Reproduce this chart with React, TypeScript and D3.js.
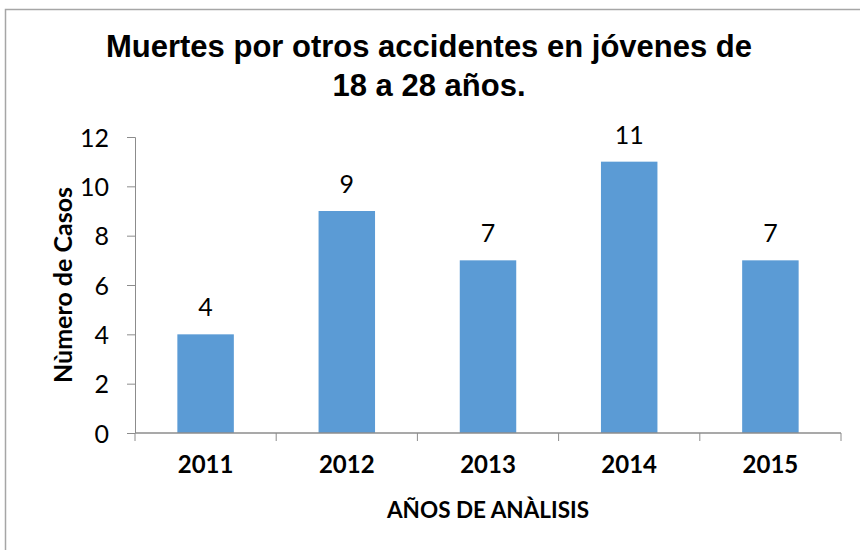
import * as d3 from "d3";
import { useEffect, useRef } from "react";

// datos del gráfico
const years = ["2011", "2012", "2013", "2014", "2015"];
const casos = [4, 9, 7, 11, 7];
const yTicks = [0, 2, 4, 6, 8, 10, 12];

const titleLines = ["Muertes por otros accidentes en jóvenes de", "18 a 28 años."];
const xTitle = "AÑOS DE ANÀLISIS";
const yTitle = "Nùmero de Casos";

const App = () => {
    const ref = useRef<SVGSVGElement>(null);

    const width = 860;
    const height = 550;
    const margin = { top: 137, bottom: 117, left: 135, right: 19 };
    const boundsWidth = width - margin.left - margin.right;
    const boundsHeight = height - margin.top - margin.bottom;

    useEffect(() => {
        const svg = d3.select(ref.current);
        svg.selectAll("*").remove();

        const font = "Lato, 'DejaVu Sans', sans-serif";
        const axisColor = "#8c8c8c";

        // marco exterior
        svg.append("rect")
            .attr("x", 5.5)
            .attr("y", 9.5)
            .attr("width", 900)
            .attr("height", 600)
            .attr("fill", "white")
            .attr("stroke", "#a6a6a6")
            .attr("stroke-width", 1.5);

        // título
        svg.append("text")
            .attr("x", width / 2)
            .attr("y", 57)
            .attr("text-anchor", "middle")
            .style("font-family", "'Liberation Sans', Arial, sans-serif")
            .style("font-weight", "bold")
            .style("font-size", "31px")
            .selectAll("tspan")
            .data(titleLines)
            .enter()
            .append("tspan")
            .attr("x", 429)
            .attr("dy", (d, i) => (i === 0 ? 0 : 39))
            .text(d => d);

        const scaleX = d3
            .scaleBand()
            .domain(years)
            .range([0, boundsWidth])
            .paddingInner(0.6)
            .paddingOuter(0.3);

        const scaleY = d3.scaleLinear().domain([0, 12]).range([boundsHeight, 0]);

        const g = svg
            .append("g")
            .attr("transform", `translate(${margin.left},${margin.top})`);

        // barras
        g.selectAll(".bar")
            .data(casos)
            .enter()
            .append("rect")
            .attr("class", "bar")
            .attr("x", (d, i) => scaleX(years[i])!)
            .attr("y", d => scaleY(d))
            .attr("width", scaleX.bandwidth())
            .attr("height", d => boundsHeight - scaleY(d))
            .style("fill", "#5b9bd5");

        // etiquetas de valores
        g.selectAll(".val")
            .data(casos)
            .enter()
            .append("text")
            .attr("class", "val")
            .attr("x", (d, i) => scaleX(years[i])! + scaleX.bandwidth() / 2)
            .attr("y", d => scaleY(d) - 18)
            .attr("text-anchor", "middle")
            .style("font-family", font)
            .style("font-size", "25px")
            .style("fill", "#000")
            .text(d => d);

        // eje Y
        const yAxis = d3.axisLeft(scaleY).tickValues(yTicks).tickSize(8).tickPadding(18);
        const gy = g.append("g").call(yAxis);
        gy.selectAll("path, line").attr("stroke", axisColor);
        gy.select(".domain").attr("d", `M-8,0.5H0.5V${boundsHeight}`);
        gy.selectAll("text")
            .attr("dy", "0.36em")
            .style("font-family", font)
            .style("font-size", "25px")
            .style("fill", "#000");

        // eje X: marcas en los bordes de cada categoría
        const step = scaleX.step();
        const gx = g.append("g").attr("transform", `translate(0,${boundsHeight})`);
        gx.append("line")
            .attr("x1", 0)
            .attr("x2", boundsWidth)
            .attr("stroke", axisColor)
            .attr("stroke-width", 1.5);
        gx.selectAll(".tk")
            .data(d3.range(years.length + 1))
            .enter()
            .append("line")
            .attr("x1", d => d * step)
            .attr("x2", d => d * step)
            .attr("y1", 0)
            .attr("y2", 8)
            .attr("stroke", axisColor);
        gx.selectAll(".xl")
            .data(years)
            .enter()
            .append("text")
            .attr("x", d => scaleX(d)! + scaleX.bandwidth() / 2)
            .attr("y", 40)
            .attr("text-anchor", "middle")
            .style("font-family", font)
            .style("font-weight", "bold")
            .style("font-size", "24px")
            .text(d => d);

        // títulos de ejes
        g.append("text")
            .attr("x", boundsWidth / 2)
            .attr("y", boundsHeight + 85)
            .attr("text-anchor", "middle")
            .style("font-family", font)
            .style("font-weight", "bold")
            .style("font-size", "22.5px")
            .text(xTitle);

        g.append("text")
            .attr("transform", `translate(${72 - margin.left},${boundsHeight / 2}) rotate(-90)`)
            .attr("text-anchor", "middle")
            .style("font-family", font)
            .style("font-weight", "bold")
            .style("font-size", "25px")
            .text(yTitle);
    }, []);

    return (
        <svg
            ref={ref}
            width={width}
            height={height}
            style={{ position: "absolute", left: 0, top: 0, display: "block" }}
        ></svg>
    );
};

export default App;
